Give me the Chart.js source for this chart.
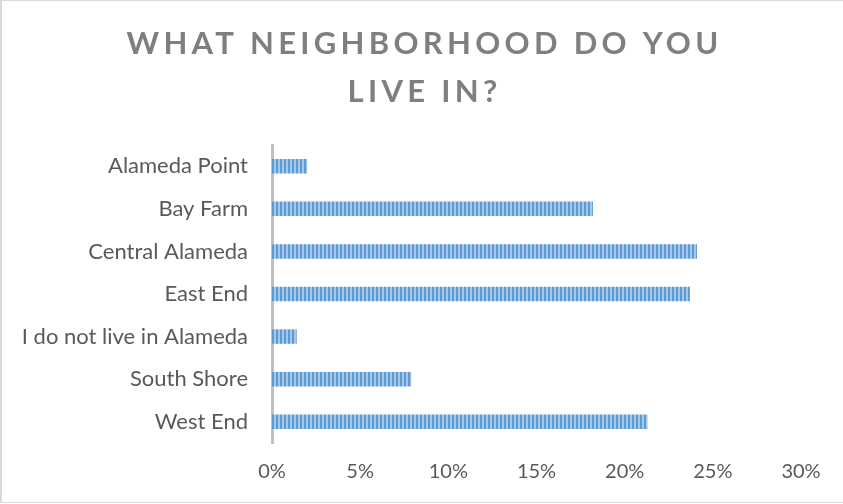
<!DOCTYPE html>
<html>
<head>
<meta charset="utf-8">
<script src="https://cdn.jsdelivr.net/npm/chart.js@4.4.1/dist/chart.umd.min.js"></script>
<style>
  html, body { margin: 0; padding: 0; background: #fff; }
  #wrap { position: relative; width: 843px; height: 504px; }
  #frame { position: absolute; left: 0; top: 0; width: 843px; height: 503px; box-sizing: border-box;
           border-left: 2px solid #D9D9D9; border-top: 1px solid #D9D9D9; border-bottom: 1px solid #D9D9D9; pointer-events: none; }
  canvas { display: block; }
</style>
</head>
<body>
<div id="wrap">
  <canvas id="c" width="843" height="504"></canvas>
  <div id="frame"></div>
</div>
<script>
const titleLines = ['WHAT NEIGHBORHOOD DO YOU', 'LIVE IN?'];
const categories = ['Alameda Point', 'Bay Farm', 'Central Alameda', 'East End', 'I do not live in Alameda', 'South Shore', 'West End'];
const percentValues = [2.0, 18.2, 24.1, 23.7, 1.4, 7.9, 21.3];
const tickValues = [0, 5, 10, 15, 20, 25, 30];

const FONT = 'Lato, "Open Sans", "Liberation Sans", sans-serif';
const TEXT = '#595959';

function stripePattern() {
  const p = document.createElement('canvas');
  p.width = 4; p.height = 4;
  const g = p.getContext('2d');
  g.fillStyle = '#A7C8EA'; g.fillRect(0, 0, 4, 4);
  g.fillStyle = '#5B9BD5'; g.fillRect(0, 0, 2, 4);
  return document.getElementById('c').getContext('2d').createPattern(p, 'repeat');
}

const titleSpacingPlugin = {
  id: 'titleSpacing',
  beforeDraw(chart) {
    const tb = chart.titleBlock;
    if (tb && !tb._spaced) {
      const orig = tb.draw.bind(tb);
      tb.draw = function () {
        const ctx = chart.ctx;
        ctx.save();
        ctx.translate(24, 0);
        ctx.letterSpacing = '4.3px';
        orig();
        ctx.restore();
      };
      tb._spaced = true;
    }
  }
};

new Chart(document.getElementById('c'), {
  type: 'bar',
  data: {
    labels: categories,
    datasets: [{
      data: percentValues,
      backgroundColor: stripePattern(),
      borderWidth: 0,
      categoryPercentage: 1,
      barPercentage: 0.34
    }]
  },
  options: {
    indexAxis: 'y',
    responsive: false,
    devicePixelRatio: 1,
    animation: false,
    layout: { padding: { left: 0, right: 42, top: 0, bottom: 0 } },
    plugins: {
      legend: { display: false },
      tooltip: { enabled: false },
      title: {
        display: true,
        text: titleLines,
        color: '#7F7F7F',
        font: { family: FONT, size: 31, weight: 'bold', lineHeight: '48px' },
        padding: { top: 20, bottom: 29 }
      }
    },
    scales: {
      x: {
        min: 0, max: 30,
        afterBuildTicks(scale) { scale.ticks = tickValues.map(v => ({ value: v })); },
        afterFit(scale) { scale.height = 61; },
        grid: { display: false },
        border: { display: false },
        ticks: {
          padding: 9,
          color: TEXT,
          font: { family: FONT, size: 20 },
          callback: v => v + '%'
        }
      },
      y: {
        afterFit(scale) { scale.width = 272; },
        grid: { display: false },
        border: { display: true, color: '#BFBFBF', width: 3 },
        ticks: {
          padding: 16,
          color: TEXT,
          font: { family: FONT, size: 22 }
        }
      }
    }
  },
  plugins: [titleSpacingPlugin]
});
</script>
</body>
</html>
